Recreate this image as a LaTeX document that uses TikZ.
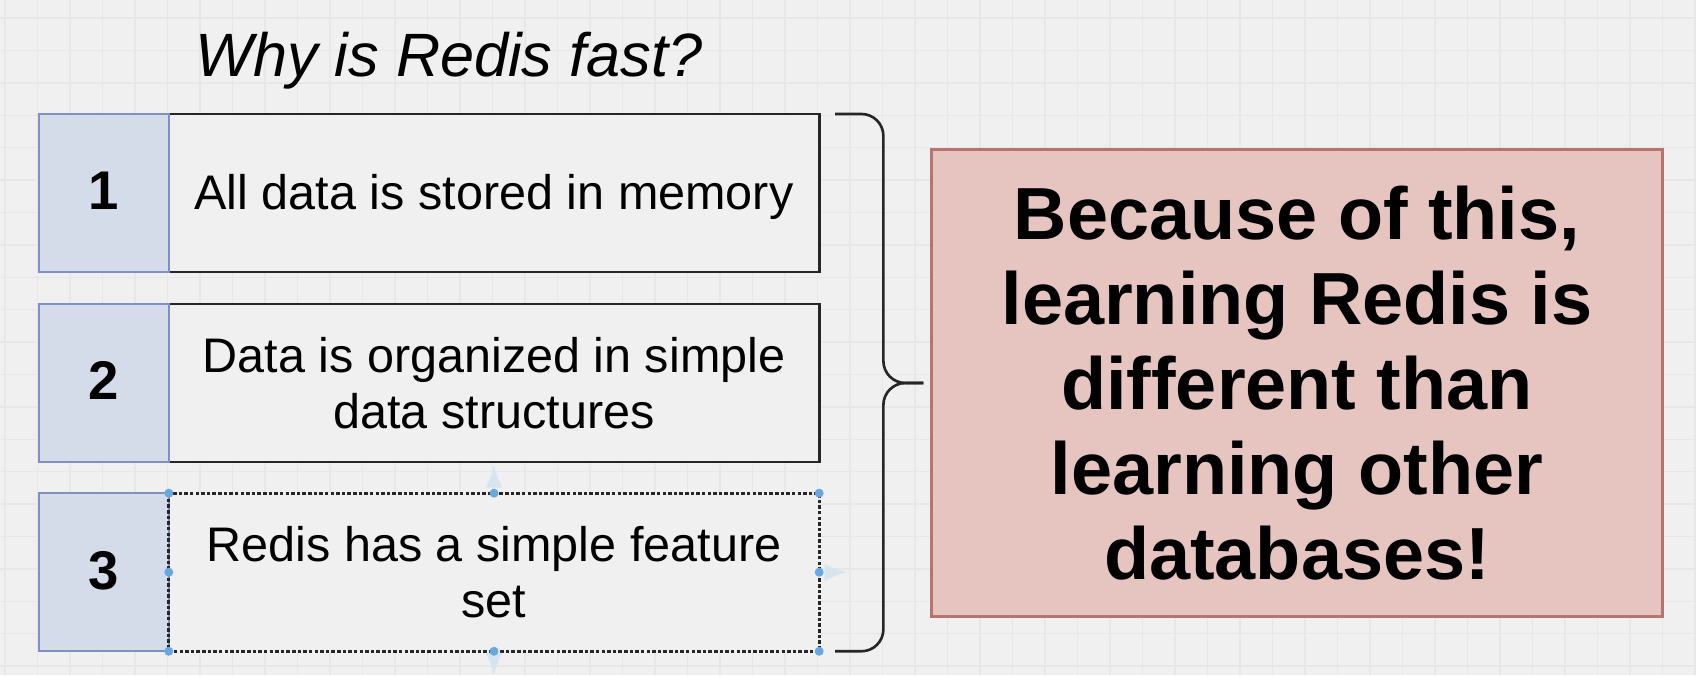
\documentclass[tikz,border=0pt]{standalone}
\usepackage{fontspec}
\setmainfont{Liberation Sans}
\usetikzlibrary{arrows,positioning,calc}

\definecolor{canvas}{HTML}{F0F0F0}
\definecolor{gridline}{HTML}{E7E7E7}
\definecolor{numfill}{HTML}{D4DCEA}
\definecolor{numdraw}{HTML}{7C92C4}
\definecolor{notefill}{HTML}{E6C4C0}
\definecolor{notedraw}{HTML}{B8736C}
\definecolor{handle}{HTML}{67A8E2}
\definecolor{hint}{HTML}{D6E4F0}

\begin{document}
\begin{tikzpicture}[x=0.01cm, y=-0.01cm,
				numbox/.style={rectangle, draw=numdraw, fill=numfill, line width=0.6pt, outer sep=0pt,
						minimum width=1.3cm, minimum height=1.58cm, text height=0.956em, text depth=0pt,
						font=\fontsize{15.5pt}{18pt}\selectfont\bfseries},
				textbox/.style={rectangle, draw=black!85, fill=canvas, line width=0.75pt, outer sep=0pt, align=center,
						minimum width=6.5cm, minimum height=1.58cm, font=\fontsize{13.8pt}{15.9pt}\selectfont},
				notebox/.style={rectangle, draw=notedraw, fill=notefill, line width=0.8pt, align=center,
						minimum width=7.3cm, minimum height=4.66cm, font=\fontsize{21pt}{24.2pt}\selectfont\bfseries},
				brace/.style={draw=black!85, line width=0.75pt, rounded corners=0.22cm},
				line/.style={draw=hint, line width=1.2pt, -latex}
			]
			\useasboundingbox (0,0) rectangle (1696,675);
			\fill[canvas] (0,0) rectangle (1696,675);
			\foreach \gx in {5,37.5,...,1696} \draw[gridline, line width=0.4pt] (\gx,0) -- (\gx,675);
			\foreach \gy in {18,50.4,...,675} \draw[gridline, line width=0.4pt] (0,\gy) -- (1696,\gy);

			\node [anchor=base, font=\fontsize{17.4pt}{20pt}\selectfont\itshape] (title) at (449,76) {Why is Redis fast?};

			\node [textbox, text height=0.946em, text depth=0pt] (txt1) at (494,193) {All data is stored in memory};
			\node [numbox, left=0pt of txt1] (num1) {1};
			\node [textbox, below=0.32cm of txt1] (txt2) {Data is organized in simple\\ data structures};
			\node [numbox, left=0pt of txt2] (num2) {2};
			\node [textbox, below=0.31cm of txt2, draw=none] (txt3) {Redis has a simple feature\\ set};
			\node [numbox, left=0pt of txt3] (num3) {3};

			\node [notebox] (reason) at (1297,383) {Because of this,\\ learning Redis is\\ different than\\ learning other\\ databases!};

			% selected box
			\draw [black!85, line width=0.75pt, dash pattern=on 1pt off 0.6pt] (txt3.north west) rectangle (txt3.south east);
			\path [line] ($(txt3.north)+(0,-12)$) -- ($(txt3.north)+(0,-28)$);
			\path [line] ($(txt3.east)+(10,0)$) -- ($(txt3.east)+(28,0)$);
			\path [line] ($(txt3.south)+(0,8)$) -- ($(txt3.south)+(0,24)$);
			\foreach \a in {north west, north, north east, east, south east, south, south west, west}
				\fill [handle] (txt3.\a) circle (0.045cm);

			% brace
			\coordinate (bt) at ($(txt1.north east)+(16,0)$);
			\coordinate (bb) at ($(txt3.south east)+(16,0)$);
			\coordinate (tip) at ($(reason.west)+(-7,0)$);
			\coordinate (bmid) at ($(tip)+(-40,0)$);
			\path [brace] (bt) -| (bmid) -- (tip);
			\path [brace] (tip) -- (bmid) |- (bb);
		\end{tikzpicture}
\end{document}
